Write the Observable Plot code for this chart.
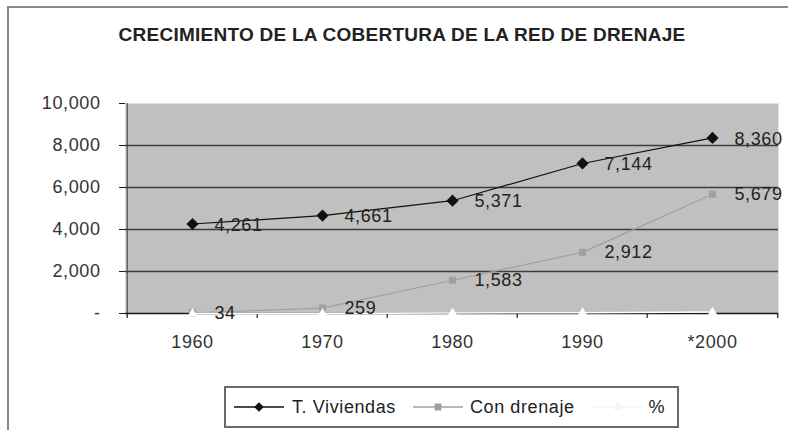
<!DOCTYPE html>
<html>
<head>
<meta charset="utf-8">
<script src="https://cdn.jsdelivr.net/npm/d3@7"></script>
<script src="https://cdn.jsdelivr.net/npm/@observablehq/plot@0.6"></script>
<style>
  html, body { margin: 0; padding: 0; background: #fff; }
  #wrap { position: relative; width: 788px; height: 430px; overflow: hidden; font-family: "Liberation Sans", Arial, sans-serif; }
  #border { position: absolute; left: 7px; top: 6px; width: 800px; height: 440px; border-left: 2px solid #8a8a8a; border-top: 2px solid #8a8a8a; }
  #title { position: absolute; left: 0; width: 804px; top: 24px; text-align: center; font-weight: bold; font-size: 19px; color: #222; letter-spacing: 0.25px; white-space: nowrap; }
  #chart { position: absolute; left: 0; top: 0; }
  #legend { position: absolute; left: 224px; top: 386px; width: 451px; height: 38px; border: 2px solid #6a6a6a; background: #fff; display: flex; align-items: center; font-size: 18px; color: #222; white-space: nowrap; }
  #legend .item { display: flex; align-items: center; }
  #legend svg { display: block; }
</style>
</head>
<body>
<div id="wrap">
  <div id="border"></div>
  <div id="chart"></div>
  <div id="title"></div>
  <div id="legend"></div>
</div>
<script>
const titleText = "CRECIMIENTO DE LA COBERTURA DE LA RED DE DRENAJE";
const years = ["1960", "1970", "1980", "1990", "*2000"];
const seriesNames = ["T. Viviendas", "Con drenaje", "%"];
const viviendas = [4261, 4661, 5371, 7144, 8360];
const conDrenaje = [34, 259, 1583, 2912, 5679];
const porcentaje = [0.8, 5.6, 29.5, 40.8, 67.9];
const yTicks = [0, 2000, 4000, 6000, 8000, 10000];
const yTickLabels = ["-", "2,000", "4,000", "6,000", "8,000", "10,000"];
const yGrid = [2000, 4000, 6000, 8000];

document.getElementById("title").textContent = titleText;

const rows = [];
years.forEach((yr, i) => {
  rows.push({year: yr, series: seriesNames[0], value: viviendas[i]});
  rows.push({year: yr, series: seriesNames[1], value: conDrenaje[i]});
  rows.push({year: yr, series: seriesNames[2], value: porcentaje[i]});
});
const sV = rows.filter(d => d.series === seriesNames[0]);
const sC = rows.filter(d => d.series === seriesNames[1]);
const sP = rows.filter(d => d.series === seriesNames[2]);

const W = 788, H = 430, mL = 125, mR = 10, mT = 103, mB = 117;
const bw = (W - mL - mR) / years.length;
const fmt = d3.format(",");
const labelFont = {fontSize: 18, fontFamily: "Liberation Sans, Arial, sans-serif"};

const chart = Plot.plot({
  width: W, height: H,
  marginLeft: mL, marginRight: mR, marginTop: mT, marginBottom: mB,
  style: {fontFamily: "Liberation Sans, Arial, sans-serif", fontSize: "18px", color: "#333", background: "transparent"},
  x: {type: "band", domain: years, padding: 0, label: null},
  y: {domain: [0, 10000], label: null},
  marks: [
    Plot.frame({fill: "#c0c0c0", stroke: null}),
    Plot.ruleY(yGrid, {stroke: "#3c3c3c", strokeWidth: 1.6}),
    Plot.ruleY([0], {stroke: "#1a1a1a", strokeWidth: 1.4}),
    Plot.ruleX(years, {x: d => d, dx: -bw / 2, y1: 0, y2: 0, insetBottom: -5, stroke: "#1a1a1a", strokeWidth: 1.2}),
    Plot.ruleX([years[years.length - 1]], {x: d => d, dx: bw / 2, y1: 0, y2: 0, insetBottom: -5, stroke: "#1a1a1a", strokeWidth: 1.2}),
    Plot.ruleX([years[0]], {x: d => d, dx: -bw / 2, y1: 0, y2: 10000, stroke: "#3a3a3a", strokeWidth: 1}),
    Plot.axisY(yTicks, {tickSize: 6, tickPadding: 19, tickFormat: (d, i) => yTickLabels[yTicks.indexOf(d)], stroke: "#1a1a1a", fill: "#333", fontSize: 18, label: null}),
    Plot.axisX({tickSize: 0, tickPadding: 22, fill: "#333", fontSize: 18, label: null}),
    Plot.line(sC, {x: "year", y: "value", stroke: "#a0a0a0", strokeWidth: 1.2}),
    Plot.dot(sC, {x: "year", y: "value", symbol: "square", r: 4, fill: "#a0a0a0", stroke: null}),
    Plot.line(sV, {x: "year", y: "value", stroke: "#111", strokeWidth: 1.2}),
    Plot.dot(sV, {x: "year", y: "value", symbol: "diamond2", r: 5.5, fill: "#111", stroke: null}),
    Plot.line(sP, {x: "year", y: "value", stroke: "#fff", strokeWidth: 1.5}),
    Plot.dot(sP, {x: "year", y: "value", symbol: "triangle", r: 3.5, fill: "#fff", stroke: null}),
    Plot.text(sV, {x: "year", y: "value", text: d => fmt(d.value), dx: 22, dy: 1, textAnchor: "start", fill: "#222", ...labelFont}),
    Plot.text(sC, {x: "year", y: "value", text: d => fmt(d.value), dx: 22, dy: 0, textAnchor: "start", fill: "#222", ...labelFont})
  ]
});
chart.style.letterSpacing = "0.6px";
document.getElementById("chart").appendChild(chart);

// legend
const legend = document.getElementById("legend");
const legendSpecs = [
  {name: seriesNames[0], stroke: "#111", fill: "#111", sym: d3.symbolDiamond2, size: 60, lw: 50, gapL: 8, gapR: 8},
  {name: seriesNames[1], stroke: "#a0a0a0", fill: "#a0a0a0", sym: d3.symbolSquare, size: 48, lw: 50, gapL: 17, gapR: 7},
  {name: seriesNames[2], stroke: "#f4f4f4", fill: "#f4f4f4", sym: d3.symbolTriangle, size: 36, lw: 50, gapL: 18, gapR: 6}
];
legendSpecs.forEach(s => {
  const item = document.createElement("div");
  item.className = "item";
  const svg = d3.create("svg").attr("width", s.lw).attr("height", 20).style("margin-left", s.gapL + "px").style("margin-right", s.gapR + "px");
  svg.append("line").attr("x1", 0).attr("x2", s.lw).attr("y1", 10).attr("y2", 10).attr("stroke", s.stroke).attr("stroke-width", 1.3);
  svg.append("path").attr("d", d3.symbol(s.sym, s.size)()).attr("transform", `translate(${s.lw / 2},10)`).attr("fill", s.fill);
  item.appendChild(svg.node());
  const t = document.createElement("span");
  t.textContent = s.name;
  t.style.letterSpacing = "0.6px";
  item.appendChild(t);
  legend.appendChild(item);
});
</script>
</body>
</html>
